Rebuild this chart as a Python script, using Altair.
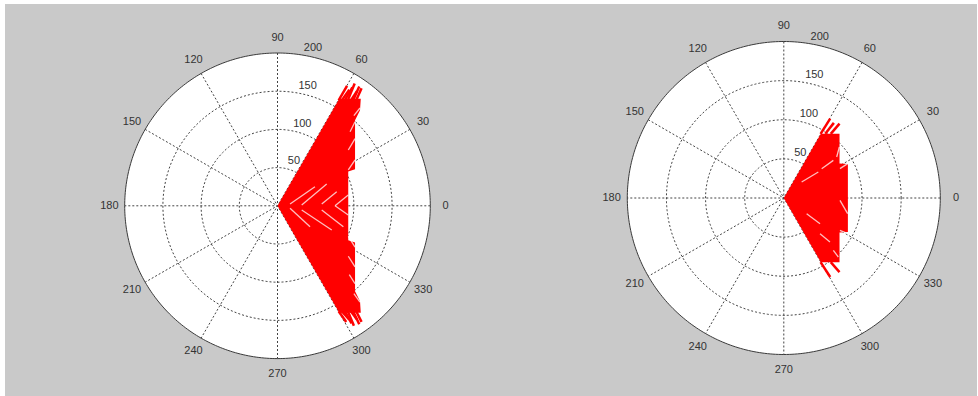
import altair as alt
import numpy as np
import pandas as pd

# ---- polar frame -------------------------------------------------------
R_MAX = 200
RING_R = [50, 100, 150]
SPOKE_DEG = [0, 30, 60, 90, 120, 150]
ANGLE_LABELS = list(range(0, 360, 30))
RADIUS_LABELS = [50, 100, 150, 200]
RLABEL_DEG = 82
ALABEL_R = 220
WEDGE_DEG = 60

# ---- left plot: beam body (right edge profile), tips and gaps -----------
L_BODY_Y = [-140, -125, -112, -48, -45, 0, 45, 48, 112, 125, 140]
L_BODY_XR = [109, 108, 101.5, 101.5, 92.6, 92.6, 92.6, 101.5, 101.5, 108, 109]

L_TIP_X0 = [80, 84, 88, 92, 96, 99, 103, 80, 84, 88, 92, 96, 99, 103]
L_TIP_Y0 = [138, 138, 138, 138, 138, 138, 138,
            -138, -138, -138, -138, -138, -138, -138]
L_TIP_X1 = [91, 94, 98, 101, 104, 107, 110, 90, 94, 97, 100, 104, 107, 110]
L_TIP_Y1 = [157, 152, 155, 160, 150, 156, 154,
            -152, -149, -154, -157, -149, -155, -152]

L_GAP_X0 = [16.4, 16.4, 31.7, 31.7, 57.9, 57.9, 75.3, 75.3,
            92.7, 92.7, 95, 100, 92.7, 92.7, 94, 100]
L_GAP_Y0 = [2.4, -3.3, 1, -5.5, 2.4, -5.5, 0, 0,
            47, 73, 97, 118, -40, -66, -90, -115]
L_GAP_X1 = [49, 42.6, 64.4, 71, 77.5, 86.2, 92.6, 92.6,
            101.5, 101.5, 101.5, 108, 101.5, 101.5, 101.5, 108]
L_GAP_Y1 = [25, -27.4, 28.5, -31.7, 18.5, -27.4, 14, -12,
            60, 88, 110, 128, -54, -80, -102, -126]

# ---- right plot ----------------------------------------------------------
R_BODY_Y = [-82, -44, -43.5, 0, 43.5, 44, 82]
R_BODY_XR = [71.2, 71.2, 81.9, 81.9, 81.9, 71.2, 71.2]

R_TIP_X0 = [47, 53, 60, 47, 60]
R_TIP_Y0 = [82, 82, 82, -82, -82]
R_TIP_X1 = [59.3, 64, 71.2, 59.3, 71.2]
R_TIP_Y1 = [101.5, 96, 95.1, -101, -94.7]

R_GAP_X0 = [22.8, 48.4, 67.6, 71.8, 29.2, 46.3, 63.3, 71.8, 71.8]
R_GAP_Y0 = [20.4, 37.5, 52.4, 37.5, -20, -45.6, -66.9, -3, -41.3]
R_GAP_X1 = [44.1, 63.3, 71, 81.6, 46.3, 59, 69.7, 81.6, 81.6]
R_GAP_Y1 = [33.2, 48.1, 65.2, 43.9, -32.8, -56.2, -75.4, -20, -45.6]

RED = "#ff0000"
GRID = "#444444"
TEXT = "#333333"
FONT = "Liberation Sans Narrow, Liberation Sans, Arial, sans-serif"
BG = "#c9c9c9"

RAD = "PI / 180"


def polar_panel(cx, cy, w, h, r_px, body_y, body_xr, tips, gaps):
    k = r_px / R_MAX
    xs = alt.Scale(domain=[-cx / k, (w - cx) / k], nice=False, zero=False)
    ys = alt.Scale(domain=[-(h - cy) / k, cy / k], nice=False, zero=False)

    def X(f):
        return alt.X(f, type="quantitative", scale=xs, axis=None)

    def Y(f):
        return alt.Y(f, type="quantitative", scale=ys, axis=None)

    # white disc
    disc = (
        alt.Chart(pd.DataFrame({"t": np.arange(0, 181, 1)}))
        .transform_calculate(
            x=f"{R_MAX} * cos(datum.t * {RAD})",
            y=f"{R_MAX} * sin(datum.t * {RAD})",
            y2=f"-{R_MAX} * sin(datum.t * {RAD})",
        )
        .mark_area(color="white")
        .encode(x=X("x"), y=Y("y"), y2="y2:Q")
    )

    # dotted rings
    ring_df = pd.DataFrame(
        [(r, t) for r in RING_R for t in range(0, 361, 2)], columns=["r", "t"]
    )
    rings = (
        alt.Chart(ring_df)
        .transform_calculate(
            x=f"datum.r * cos(datum.t * {RAD})", y=f"datum.r * sin(datum.t * {RAD})"
        )
        .mark_line(color=GRID, strokeWidth=1, strokeDash=[2, 2])
        .encode(x=X("x"), y=Y("y"), detail="r:N", order="t:Q")
    )

    # dotted spokes (full diameters)
    spokes = (
        alt.Chart(pd.DataFrame({"a": SPOKE_DEG}))
        .transform_calculate(
            x=f"{R_MAX} * cos(datum.a * {RAD})",
            y=f"{R_MAX} * sin(datum.a * {RAD})",
            x2=f"-{R_MAX} * cos(datum.a * {RAD})",
            y2=f"-{R_MAX} * sin(datum.a * {RAD})",
        )
        .mark_rule(color=GRID, strokeWidth=1, strokeDash=[2, 2])
        .encode(x=X("x"), y=Y("y"), x2="x2:Q", y2="y2:Q")
    )

    # solid outer circle
    rim = (
        alt.Chart(pd.DataFrame({"t": np.arange(0, 361, 1)}))
        .transform_calculate(
            x=f"{R_MAX} * cos(datum.t * {RAD})", y=f"{R_MAX} * sin(datum.t * {RAD})"
        )
        .mark_line(color="#3a3a3a", strokeWidth=1)
        .encode(x=X("x"), y=Y("y"), order="t:Q")
    )

    # red beam body between the wedge edges and the outer profile
    body = (
        alt.Chart(pd.DataFrame({"y": body_y, "xr": body_xr}))
        .transform_calculate(xl=f"abs(datum.y) / tan({WEDGE_DEG} * {RAD})")
        .mark_area(orient="horizontal", color=RED)
        .encode(y=Y("y"), x=X("xl"), x2="xr:Q")
    )

    tx0, ty0, tx1, ty1 = tips
    tip_layer = (
        alt.Chart(pd.DataFrame({"x0": tx0, "y0": ty0, "x1": tx1, "y1": ty1}))
        .mark_rule(color=RED, strokeWidth=2.5)
        .encode(x=X("x0"), y=Y("y0"), x2="x1:Q", y2="y1:Q")
    )

    gx0, gy0, gx1, gy1 = gaps
    gap_layer = (
        alt.Chart(pd.DataFrame({"x0": gx0, "y0": gy0, "x1": gx1, "y1": gy1}))
        .mark_rule(color="white", strokeWidth=1.3, opacity=0.75)
        .encode(x=X("x0"), y=Y("y0"), x2="x1:Q", y2="y1:Q")
    )

    angle_text = (
        alt.Chart(pd.DataFrame({"a": ANGLE_LABELS}))
        .transform_calculate(
            x=f"{ALABEL_R} * cos(datum.a * {RAD})",
            y=f"{ALABEL_R} * sin(datum.a * {RAD})",
        )
        .mark_text(font=FONT, fontSize=11, color=TEXT, align="center", baseline="middle")
        .encode(x=X("x"), y=Y("y"), text="a:Q")
    )

    radius_text = (
        alt.Chart(pd.DataFrame({"r": RADIUS_LABELS}))
        .transform_calculate(
            x=f"datum.r * cos({RLABEL_DEG} * {RAD})",
            y=f"datum.r * sin({RLABEL_DEG} * {RAD})",
        )
        .mark_text(font=FONT, fontSize=11, color=TEXT, align="left",
                   baseline="alphabetic", dx=5, dy=-3.5)
        .encode(x=X("x"), y=Y("y"), text="r:Q")
    )

    return alt.layer(
        disc, rings, spokes, rim, body, tip_layer, gap_layer, angle_text, radius_text
    ).properties(width=w, height=h)


left = polar_panel(
    cx=272.5, cy=201.8, w=535, h=392, r_px=152.8,
    body_y=L_BODY_Y, body_xr=L_BODY_XR,
    tips=(L_TIP_X0, L_TIP_Y0, L_TIP_X1, L_TIP_Y1),
    gaps=(L_GAP_X0, L_GAP_Y0, L_GAP_X1, L_GAP_Y1),
)
right = polar_panel(
    cx=243.8, cy=194.0, w=437, h=392, r_px=156.5,
    body_y=R_BODY_Y, body_xr=R_BODY_XR,
    tips=(R_TIP_X0, R_TIP_Y0, R_TIP_X1, R_TIP_Y1),
    gaps=(R_GAP_X0, R_GAP_Y0, R_GAP_X1, R_GAP_Y1),
)

chart = (
    alt.hconcat(left, right, spacing=0)
    .properties(
        padding={"left": 5, "top": 4, "right": 1, "bottom": 0},
        background="white",
    )
    .configure_view(fill=BG, stroke=None)
)

chart.save("out.html", embed_options={"renderer": "svg", "actions": False})
